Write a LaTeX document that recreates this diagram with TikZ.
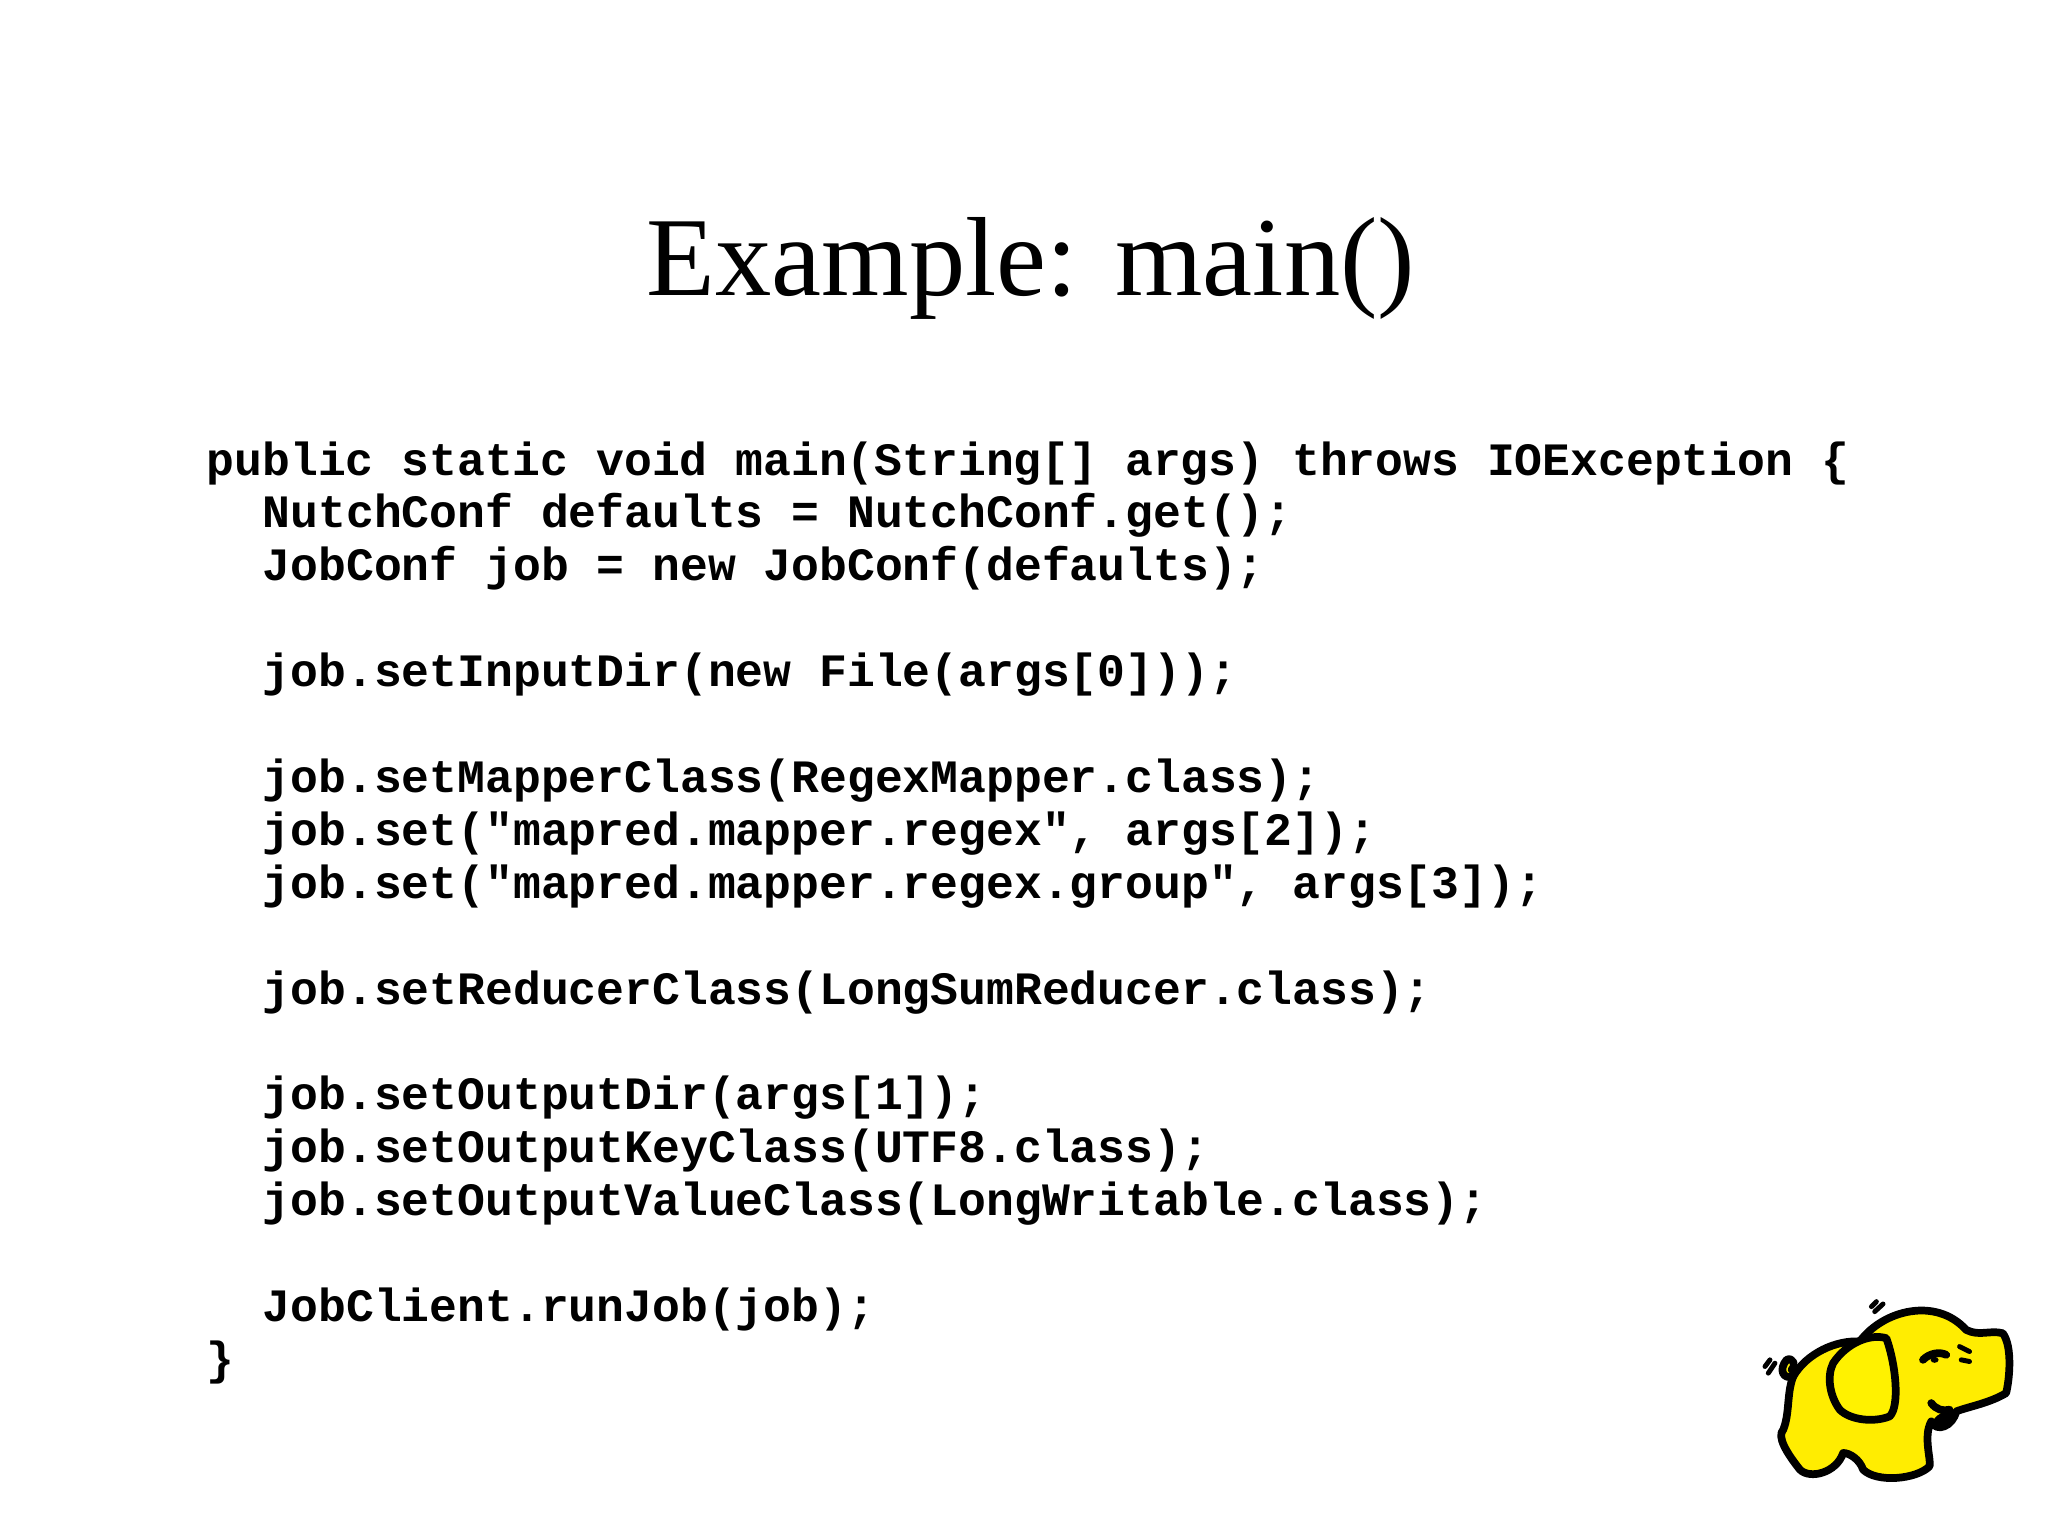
\documentclass[tikz,border=0pt]{standalone}
\usepackage{fontspec}
\setmainfont{Liberation Serif}
\newfontfamily\codefont{Liberation Mono}
\begin{document}
\begin{tikzpicture}[
  codeline/.style={anchor=base west,inner sep=0pt,font=\codefont\bfseries\fontsize{13.2pt}{15pt}\selectfont},
  eleline/.style={line width=2.2pt,line join=round,line cap=round}]
\useasboundingbox (0,0) rectangle (20.48,-15.35);
\node[anchor=base,inner sep=0pt,font=\fontsize{32pt}{38pt}\selectfont] (title) at (10.31,-2.95) {Example: main()};
\def\ls{0.529}
\def\ya{-4.75}
\node[codeline] (l1) at (2.06,\ya) {public static void main(String[] args) throws IOException \{};
\node[codeline] (l2) at (2.62,\ya-1*\ls) {NutchConf defaults = NutchConf.get();};
\node[codeline] (l3) at (2.62,\ya-2*\ls) {JobConf job = new JobConf(defaults);};
\node[codeline] (l5) at (2.62,\ya-4*\ls) {job.setInputDir(new File(args[0]));};
\node[codeline] (l7) at (2.62,\ya-6*\ls) {job.setMapperClass(RegexMapper.class);};
\node[codeline] (l8) at (2.62,\ya-7*\ls) {job.set("mapred.mapper.regex", args[2]);};
\node[codeline] (l9) at (2.62,\ya-8*\ls) {job.set("mapred.mapper.regex.group", args[3]);};
\node[codeline] (l11) at (2.62,\ya-10*\ls) {job.setReducerClass(LongSumReducer.class);};
\node[codeline] (l13) at (2.62,\ya-12*\ls) {job.setOutputDir(args[1]);};
\node[codeline] (l14) at (2.62,\ya-13*\ls) {job.setOutputKeyClass(UTF8.class);};
\node[codeline] (l15) at (2.62,\ya-14*\ls) {job.setOutputValueClass(LongWritable.class);};
\node[codeline] (l17) at (2.62,\ya-16*\ls) {JobClient.runJob(job);};
\node[codeline] (l18) at (2.06,\ya-17*\ls) {\}};
\begin{scope}[shift={(17.5,-12.8)},x=0.003333cm,y=-0.003333cm]
 \draw[eleline,fill=yellow!95!orange] (130,290) .. controls (170,220) and (260,180) .. (330,185)
   .. controls (400,90) and (560,50) .. (650,150)
   .. controls (690,170) and (720,150) .. (760,160)
   .. controls (790,200) and (780,300) .. (770,340)
   .. controls (720,370) and (660,380) .. (620,395)
   .. controls (610,440) and (560,460) .. (545,425)
   .. controls (520,470) and (545,540) .. (540,560)
   .. controls (500,600) and (380,610) .. (340,570)
   .. controls (330,540) and (300,520) .. (280,520)
   .. controls (260,580) and (180,600) .. (150,570)
   .. controls (110,520) and (80,470) .. (100,450)
   .. controls (120,400) and (110,340) .. (130,290) -- cycle;
 \draw[eleline,fill=yellow] (250,250) .. controls (290,190) and (360,160) .. (410,175)
   .. controls (440,260) and (450,380) .. (420,410)
   .. controls (370,430) and (300,420) .. (270,390)
   .. controls (240,350) and (230,290) .. (250,250) -- cycle;
 \draw[eleline,fill=yellow] (130,290) .. controls (100,300) and (85,270) .. (110,240)
   .. controls (130,230) and (140,260) .. (125,270);
 \draw[eleline] (520,240) .. controls (540,220) and (570,215) .. (590,225);
 \fill (555,240) ellipse (12 and 9);
 \draw[eleline] (545,370) .. controls (560,390) and (580,395) .. (600,390);
 \draw[eleline,fill=black] (560,430) .. controls (580,440) and (610,420) .. (615,400) .. controls (590,405) and (570,410) .. (560,430);
 \draw[eleline,line width=1.4pt] (365,80) -- (380,65) (375,95) -- (400,72);
 \draw[eleline,line width=1.4pt] (45,260) -- (60,240) (55,280) -- (75,250);
 \draw[eleline,line width=1.4pt] (630,200) -- (660,215) (635,240) -- (660,245);
\end{scope}
\end{tikzpicture}
\end{document}
